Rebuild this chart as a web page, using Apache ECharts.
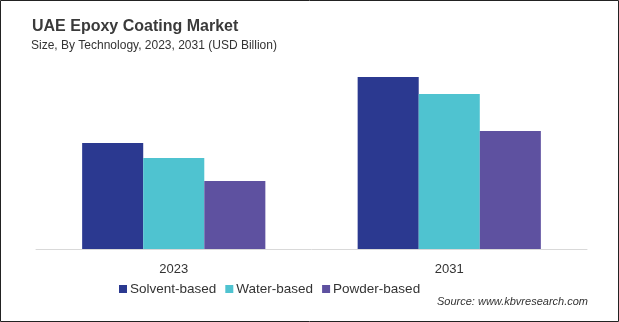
<!DOCTYPE html>
<html><head><meta charset="utf-8">
<script src="https://cdn.jsdelivr.net/npm/echarts@6/dist/echarts.min.js"></script>
<style>html,body{margin:0;padding:0;background:#fff}#c{width:619px;height:322px}</style>
</head><body><div id="c"></div>
<script>
const categories = ['2023', '2031'];
const seriesNames = ['Solvent-based', 'Water-based', 'Powder-based'];
const solvent = [0.53, 0.86];
const water = [0.455, 0.775];
const powder = [0.34, 0.59];
const colors = ['#2B3990', '#4FC3D0', '#5E51A0'];
const F = 'Liberation Sans, Arial, sans-serif';
const chart = echarts.init(document.getElementById('c'));
chart.setOption({
  animation: false,
  title: [{
    text: 'UAE Epoxy Coating Market',
    left: 32, top: 19, padding: 0,
    textStyle: {fontFamily: F, fontSize: 16, fontWeight: 'bold', color: '#3a3a3a'}
  }, {
    text: 'Size, By Technology, 2023, 2031 (USD Billion)',
    left: 31, top: 39.5, padding: 0,
    textStyle: {fontFamily: F, fontSize: 12, fontWeight: 'normal', color: '#333'}
  }, {
    text: 'Source: www.kbvresearch.com',
    right: 31, top: 296, padding: 0,
    textStyle: {fontFamily: F, fontSize: 11, fontStyle: 'italic', fontWeight: 'normal', color: '#333'}
  }],
  legend: {
    data: seriesNames,
    left: 119, top: 282, padding: 0,
    itemWidth: 8, itemHeight: 8, itemGap: 9,
    icon: 'rect',
    textStyle: {fontFamily: F, fontSize: 13.5, color: '#333', padding: [0,0,0,-2]}
  },
  grid: {left: 36, right: 32, top: 49, bottom: 73},
  xAxis: {
    type: 'category', data: categories,
    axisLine: {lineStyle: {color: '#d9d9d9', width: 1}},
    axisTick: {show: false},
    axisLabel: {fontFamily: F, fontSize: 13, color: '#333', margin: 14}
  },
  yAxis: {type: 'value', min: 0, max: 1, show: false, splitLine: {show: false}},
  series: [
    {name: seriesNames[0], type: 'bar', data: solvent, itemStyle: {color: colors[0]}, barGap: '0%', barCategoryGap: '33.5%'},
    {name: seriesNames[1], type: 'bar', data: water, itemStyle: {color: colors[1]}},
    {name: seriesNames[2], type: 'bar', data: powder, itemStyle: {color: colors[2]}}
  ],
  graphic: [{type: 'rect', shape: {x: 0.5, y: 0.5, width: 618, height: 321}, style: {fill: 'none', stroke: '#222', lineWidth: 1}, silent: true}]
});
</script></body></html>
